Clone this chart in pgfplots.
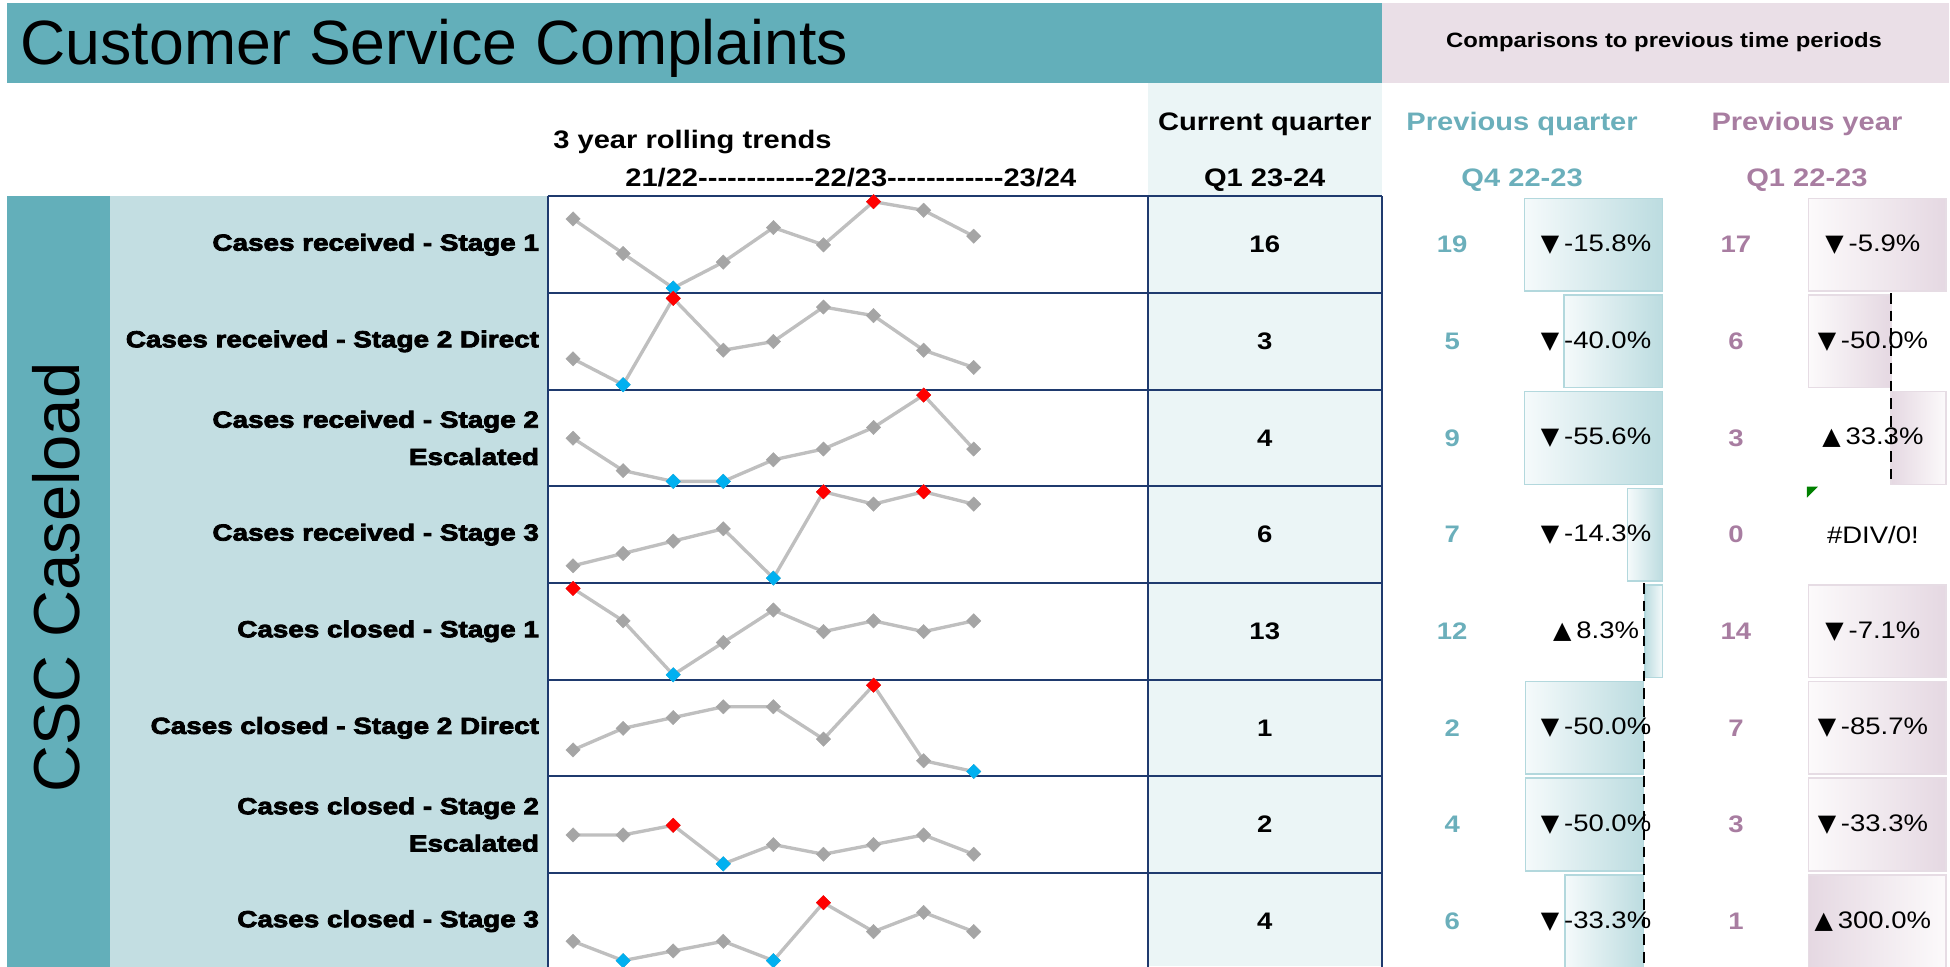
\documentclass[border=0pt]{standalone}
\usepackage{pgfplots}
\pgfplotsset{compat=1.18}
\usepackage{pgfplotstable}
\usepackage{fontspec}
\setmainfont{Liberation Sans}
\newfontfamily\hdr[FakeStretch=1.15]{Liberation Sans}
\newfontface\heavy[FakeBold=3.5,FakeStretch=1.2]{Liberation Sans Bold}
\newfontface\tri{DejaVu Sans}

\definecolor{titleteal}{HTML}{63AFBA}
\definecolor{pinkband}{HTML}{EADFE7}
\definecolor{labelteal}{HTML}{C3DEE2}
\definecolor{curbg}{HTML}{EBF5F6}
\definecolor{navy}{HTML}{1F3A6E}
\definecolor{pqtext}{HTML}{6BAFBB}
\definecolor{pytext}{HTML}{A87DA1}
\definecolor{sparkgray}{HTML}{BFBFBF}
\definecolor{sparkmark}{HTML}{A5A5A5}
\definecolor{maxred}{HTML}{FF0000}
\definecolor{minblue}{HTML}{00B0F0}
\definecolor{pqdark}{HTML}{BCDCE0}
\definecolor{pqlight}{HTML}{F5FAFB}
\definecolor{pqborder}{HTML}{B3D8DD}
\definecolor{pydark}{HTML}{E5D8E2}
\definecolor{pylight}{HTML}{FCFAFB}
\definecolor{pyborder}{HTML}{E6DCE4}

% quarterly values, Q1 21-22 ... Q1 23-24
\pgfplotstableread{
q r1 r2 r3 r4 r5 r6 r7 r8
0 18 4 5 1 16 3 4 3
1 14 1 2 2 13 5 4 1
2 10 11 1 3 8 6 5 2
3 13 5 1 4 11 7 1 3
4 17 6 3 0 14 7 3 1
5 15 10 4 7 12 4 2 7
6 20 9 6 6 13 9 3 4
7 19 5 9 7 12 2 4 6
8 16 3 4 6 13 1 2 4
}\trend

\pgfplotsset{
  spark/.style={anchor=north west, scale only axis, width=6.01cm, height=0.967cm,
    xmin=-0.5, xmax=11.5, enlarge y limits=0.06, hide axis, clip=false},
  sparkline/.style={sparkgray, line width=0.95pt, mark=square*, mark size=1.45pt,
    mark options={rotate=45, fill=sparkmark, draw=sparkmark, line width=0.1pt}},
  maxmark/.style={only marks, mark=square*, mark size=1.45pt,
    mark options={rotate=45, fill=maxred, draw=maxred, line width=0.1pt}},
  minmark/.style={only marks, mark=square*, mark size=1.45pt,
    mark options={rotate=45, fill=minblue, draw=minblue, line width=0.1pt}},
  pqneg/.style={draw=pqborder, line width=0.45pt, left color=pqlight, right color=pqdark},
  pqpos/.style={draw=pqborder, line width=0.45pt, left color=pqdark, right color=pqlight},
  pyneg/.style={draw=pyborder, line width=0.45pt, left color=pylight, right color=pydark},
  pypos/.style={draw=pyborder, line width=0.45pt, left color=pydark, right color=pylight},
}

\newcommand\spark[5][]{%
  \begin{axis}[spark, at={(5.48cm,-#2cm)}, #1]
    \addplot[sparkline] table[x=q,y=#3]{\trend};
    \addplot[maxmark] coordinates {#4};
    \addplot[minmark] coordinates {#5};
  \end{axis}}
\newcommand\dd{\mbox{-}}
\newcommand\dashes{\dd\dd\dd\dd\dd\dd\dd\dd\dd\dd\dd\dd}
\newcommand\dn{{\tri ▼}\kern0.2em}
\newcommand\up{{\tri ▲}\kern0.2em}

\begin{document}
\begin{tikzpicture}
\useasboundingbox (0,0) rectangle (19.5cm,-9.67cm);
\clip (0,0) rectangle (19.5cm,-9.67cm);

\begin{scope}[x=0.01cm,y=-0.01cm]
  \fill[titleteal] (7,3) rectangle (1383,83);
  \fill[pinkband] (1383,3) rectangle (1950,83);
  \fill[curbg] (1149,83) rectangle (1383,967);
  \fill[titleteal] (7,196.5) rectangle (110,970);
  \fill[labelteal] (110,196.5) rectangle (548,970);
  \foreach \yy in {196.5,293.2,389.9,486.6,583.3,680,776.7,873.4}
    \draw[navy, line width=0.02cm] (548,\yy) -- (1383,\yy);
  \foreach \xx in {548,1149,1383}
    \draw[navy, line width=0.02cm] (\xx,196.5) -- (\xx,970);
\end{scope}

% sparklines
\spark{1.965}{r1}{(6,20)}{(2,10)}
\spark{2.932}{r2}{(2,11)}{(1,1)}
\spark{3.899}{r3}{(7,9)}{(2,1) (3,1)}
\spark{4.866}{r4}{(5,7) (7,7)}{(4,0)}
\spark{5.833}{r5}{(0,16)}{(2,8)}
\spark{6.800}{r6}{(6,9)}{(8,1)}
\spark[ymin=0.55, ymax=9.5]{7.767}{r7}{(2,5)}{(3,1)}
\spark[ymin=0.55, ymax=9.5]{8.734}{r8}{(5,7)}{(1,1) (4,1)}

% data bars (pixel coordinates of the sheet)
\begin{axis}[anchor=north west, at={(0cm,0cm)}, x=0.01cm, y=0.01cm, y dir=reverse,
  xmin=0, xmax=1950, ymin=0, ymax=967, enlargelimits=false, hide axis, clip=false]
  % previous quarter
  \addplot[pqneg] coordinates {(1525.5,198.5) (1663.6,198.5) (1663.6,291.2) (1525.5,291.2)} -- cycle;
  \addplot[pqneg] coordinates {(1564.7,295.2) (1663.6,295.2) (1663.6,387.9) (1564.7,387.9)} -- cycle;
  \addplot[pqneg] coordinates {(1525.5,391.9) (1663.6,391.9) (1663.6,484.6) (1525.5,484.6)} -- cycle;
  \addplot[pqneg] coordinates {(1628.4,488.6) (1663.6,488.6) (1663.6,581.3) (1628.4,581.3)} -- cycle;
  \addplot[pqpos] coordinates {(1645.8,585.3) (1663.6,585.3) (1663.6,678) (1645.8,678)} -- cycle;
  \addplot[pqneg] coordinates {(1526.5,682) (1644.4,682) (1644.4,774.7) (1526.5,774.7)} -- cycle;
  \addplot[pqneg] coordinates {(1526.5,778.7) (1644.4,778.7) (1644.4,871.4) (1526.5,871.4)} -- cycle;
  \addplot[pqneg] coordinates {(1565.8,875.4) (1644.4,875.4) (1644.4,968.1) (1565.8,968.1)} -- cycle;
  % previous year
  \addplot[pyneg] coordinates {(1809.5,198.5) (1947.3,198.5) (1947.3,291.2) (1809.5,291.2)} -- cycle;
  \addplot[pyneg] coordinates {(1809.5,295.2) (1892,295.2) (1892,387.9) (1809.5,387.9)} -- cycle;
  \addplot[pypos] coordinates {(1892,391.9) (1947.3,391.9) (1947.3,484.6) (1892,484.6)} -- cycle;
  \addplot[pyneg] coordinates {(1809.5,585.3) (1947.3,585.3) (1947.3,678) (1809.5,678)} -- cycle;
  \addplot[pyneg] coordinates {(1809.5,682) (1947.3,682) (1947.3,774.7) (1809.5,774.7)} -- cycle;
  \addplot[pyneg] coordinates {(1809.5,778.7) (1947.3,778.7) (1947.3,871.4) (1809.5,871.4)} -- cycle;
  \addplot[pypos] coordinates {(1809.5,875.4) (1947.3,875.4) (1947.3,968.1) (1809.5,968.1)} -- cycle;
\end{axis}

\begin{scope}[x=0.01cm,y=-0.01cm, every node/.style={inner sep=0pt}]
  % title area
  \node[anchor=base west, font=\fontsize{17.8}{20}\selectfont] at (20,65) {Customer Service Complaints};
  \node[font=\hdr\bfseries\fontsize{5.9}{7}\selectfont] at (1665,42) {Comparisons to previous time periods};
  \node[rotate=90, font=\fontsize{18.5}{20}\selectfont] at (56,578) {CSC Caseload};
  % column headers
  \begin{scope}[every node/.append style={font=\hdr\bfseries\fontsize{7.2}{9}\selectfont}]
    \node[anchor=base west] at (553,149) {3 year rolling trends};
    \node[anchor=base west] at (625,187) {21/22\dashes 22/23\dashes 23/24};
    \node[anchor=base] at (1265.5,131) {Current quarter};
    \node[anchor=base] at (1265.5,187) {Q1 23-24};
    \node[anchor=base, pqtext] at (1523,131) {Previous quarter};
    \node[anchor=base, pqtext] at (1523,187) {Q4 22-23};
    \node[anchor=base, pytext] at (1808,131) {Previous year};
    \node[anchor=base, pytext] at (1808,187) {Q1 22-23};
  \end{scope}
  % row labels
  \begin{scope}[every node/.append style={anchor=east, align=right, font=\heavy\fontsize{6.6}{10.6}\selectfont}]
    \node at (540,244.85) {Cases received - Stage 1};
    \node at (540,341.55) {Cases received - Stage 2 Direct};
    \node at (540,438.25) {Cases received - Stage 2\\Escalated};
    \node at (540,534.95) {Cases received - Stage 3};
    \node at (540,631.65) {Cases closed - Stage 1};
    \node at (540,728.35) {Cases closed - Stage 2 Direct};
    \node at (540,825.05) {Cases closed - Stage 2\\Escalated};
    \node at (540,921.75) {Cases closed - Stage 3};
  \end{scope}
  % values
  \foreach \yy/\cur/\pq/\pqp/\py/\pyp in {
      244.85/16/19/\dn-15.8\%/17/\dn-5.9\%,
      341.55/3/5/\dn-40.0\%/6/\dn-50.0\%,
      438.25/4/9/\dn-55.6\%/3/\up33.3\%,
      534.95/6/7/\dn-14.3\%/0/\#DIV{/}0!,
      631.65/13/12/\up8.3\%/14/\dn-7.1\%,
      728.35/1/2/\dn-50.0\%/7/\dn-85.7\%,
      825.05/2/4/\dn-50.0\%/3/\dn-33.3\%,
      921.75/4/6/\dn-33.3\%/1/\up300.0\%}{
    \node[font=\hdr\bfseries\fontsize{6.8}{8}\selectfont] at (1265.5,\yy) {\cur};
    \node[font=\hdr\bfseries\fontsize{6.8}{8}\selectfont, pqtext] at (1453,\yy) {\pq};
    \node[font=\hdr\fontsize{6.8}{8}\selectfont] at (1597,\yy) {\pqp};
    \node[font=\hdr\bfseries\fontsize{6.8}{8}\selectfont, pytext] at (1737,\yy) {\py};
    \node[font=\hdr\fontsize{6.8}{8}\selectfont] at (1874,\yy) {\pyp};
  }
  % data bar axes
  \draw[black, densely dashed, line width=0.4pt] (1645,583.3) -- (1645,970);
  \draw[black, densely dashed, line width=0.4pt] (1892,293.2) -- (1892,486.6);
  % error indicator
  \fill[green!50!black] (1808,487) -- (1819,487) -- (1808,498) -- cycle;
\end{scope}
\end{tikzpicture}
\end{document}
